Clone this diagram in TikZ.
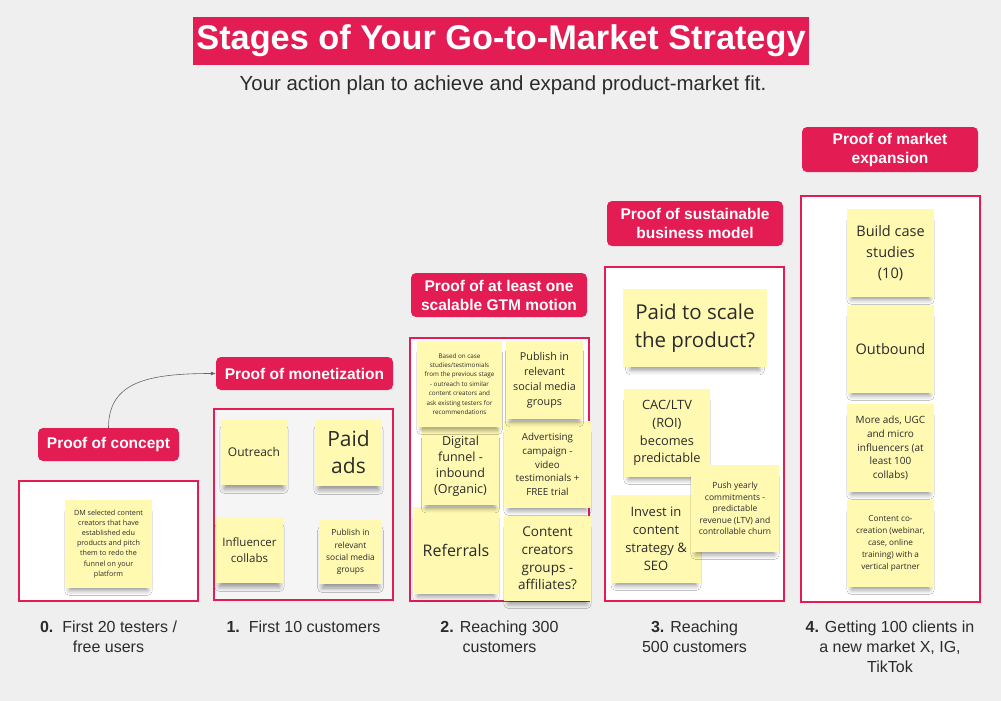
\documentclass[tikz,border=0pt]{standalone}
\usepackage{fontspec}
\setmainfont{Open Sans}
\newfontfamily\headfont{Liberation Sans}
\usetikzlibrary{positioning, arrows.meta, shadows.blur}
\definecolor{gtmred}{HTML}{E31C54}
\definecolor{stickyyellow}{HTML}{FFF9B1}
\definecolor{bggray}{HTML}{EFEFEF}
\definecolor{inktext}{HTML}{2B2B2B}
\newcommand{\fsz}[2]{\fontsize{#1}{#2}\selectfont}

\begin{document}
\begin{tikzpicture}[x=1pt, y=-1pt, >={Latex[length=5pt, width=4pt]},
    stagelabel/.style={fill=gtmred, rounded corners=5pt, text=white, align=center, inner sep=0pt,
                       font=\headfont\bfseries\fsz{15.5}{19}},
    stageframe/.style={draw=gtmred, line width=2pt, fill=white, inner sep=0pt},
    sticky/.style={fill=stickyyellow, text=inktext, align=center, inner sep=1pt,
                   blur shadow={shadow xshift=0pt, shadow yshift=-8pt, shadow scale=0.9,
                                shadow opacity=40, shadow blur radius=5pt}},
    footlabel/.style={text=inktext, align=center, inner sep=0pt, anchor=north, font=\headfont\fsz{16}{20}}]

    % Background
    \path[use as bounding box, fill=bggray] (0,0) rectangle (1001,701);

    % Heading
    \node[fill=gtmred, text=white, minimum width=616, minimum height=48, inner sep=0pt,
          font=\headfont\bfseries\fsz{34.3}{40}] (title) at (501,41) {Stages of Your Go-to-Market Strategy};
    \node[text=inktext, font=\headfont\fsz{20.4}{24}] (subtitle) at (503,85)
        {Your action plan to achieve and expand product-market fit.};

    % Stage frames
    \node[stageframe, minimum width=179, minimum height=120] (frame0) at (108.5,541) {};
    \node[stageframe, minimum width=179, minimum height=191, fill=white!96!black] (frame1) at (303.5,504.5) {};
    \node[stageframe, minimum width=179, minimum height=263] (frame2) at (499.5,469.5) {};
    \node[stageframe, minimum width=179, minimum height=334] (frame3) at (694.5,434) {};
    \node[stageframe, minimum width=179, minimum height=406] (frame4) at (890,398.5) {};

    % Stage 0 stickies
    \node[sticky, minimum width=87, minimum height=88, font=\fsz{7.2}{10.1}] (n0a) at (108.5,544)
        {DM selected content\\creators that have\\established edu\\products and pitch\\them to redo the\\funnel on your\\platform};

    % Stage 1 stickies
    \node[sticky, minimum width=66, minimum height=66, font=\fsz{12}{16}] (n1a) at (254,452) {Outreach};
    \node[sticky, minimum width=67, minimum height=67, font=\fsz{21}{27}] (n1b) at (348.5,452.5) {Paid\\ads};
    \node[sticky, minimum width=67, minimum height=66, font=\fsz{11.5}{16}] (n1c) at (249.5,550) {Influencer\\collabs};
    \node[sticky, minimum width=63, minimum height=64, font=\fsz{8.4}{12.2}] (n1d) at (350.5,552)
        {Publish in\\relevant\\social media\\groups};

    % Stage 2 stickies
    \node[sticky, minimum width=86, minimum height=87, font=\fsz{16}{20}] (n2e) at (456,550.5) {Referrals};
    \node[sticky, minimum width=87, minimum height=85, font=\fsz{13.5}{17.8}] (n2f) at (547.5,558.5)
        {Content\\creators\\groups -\\affiliates?};
    \node[sticky, minimum width=77, minimum height=77, font=\fsz{12.5}{16}] (n2c) at (460.5,466.5)
        {Digital\\funnel -\\inbound\\(Organic)};
    \node[sticky, minimum width=87, minimum height=87, font=\fsz{9.8}{13.7}] (n2d) at (547.5,464.5)
        {Advertising\\campaign -\\video\\testimonials +\\FREE trial};
    \node[sticky, minimum width=85, minimum height=86, font=\fsz{6.3}{9.4}] (n2a) at (459.5,384)
        {Based on case\\studies/testimonials\\from the previous stage\\- outreach to similar\\content creators and\\ask existing testers for\\recommendations};
    \node[sticky, minimum width=77, minimum height=78, font=\fsz{10.8}{15}] (n2b) at (544.5,380)
        {Publish in\\relevant\\social media\\groups};

    % Stage 3 stickies
    \node[sticky, minimum width=144, minimum height=78, font=\fsz{20.5}{28.5}] (n3a) at (695,328)
        {Paid to scale\\the product?};
    \node[sticky, minimum width=86, minimum height=88, font=\fsz{12.8}{17.8}] (n3b) at (667,433)
        {CAC/LTV\\(ROI)\\becomes\\predictable};
    \node[sticky, minimum width=90, minimum height=88, font=\fsz{13}{18}] (n3c) at (656,539)
        {Invest in\\content\\strategy \&\\SEO};
    \node[sticky, minimum width=88, minimum height=87, font=\fsz{8.5}{11.5}] (n3d) at (735,508.5)
        {Push yearly\\commitments -\\predictable\\revenue (LTV) and\\controllable churn};

    % Stage 4 stickies
    \node[sticky, minimum width=87, minimum height=88, font=\fsz{14.5}{21}] (n4a) at (890.5,253)
        {Build case\\studies\\(10)};
    \node[sticky, minimum width=87, minimum height=88, font=\fsz{14.5}{21}] (n4b) at (890.5,349) {Outbound};
    \node[sticky, minimum width=87, minimum height=88, font=\fsz{10}{13.9}] (n4c) at (890.5,448)
        {More ads, UGC\\and micro\\influencers (at\\least 100\\collabs)};
    \node[sticky, minimum width=87, minimum height=87, font=\fsz{8.2}{12}] (n4d) at (890.5,543.5)
        {Content co-\\creation (webinar,\\case, online\\training) with a\\vertical partner};

    % Stage labels
    \node[stagelabel, minimum width=141, minimum height=33] (lab0) at (108.5,444.5) {Proof of concept};
    \node[stagelabel, minimum width=177, minimum height=33] (lab1) at (304.5,373.5) {Proof of monetization};
    \node[stagelabel, minimum width=176, minimum height=44] (lab2) at (499,295) {Proof of at least one\\scalable GTM motion};
    \node[stagelabel, minimum width=176, minimum height=45] (lab3) at (695,223.5) {Proof of sustainable\\business model};
    \node[stagelabel, minimum width=176, minimum height=45] (lab4) at (890,149.5) {Proof of market\\expansion};

    % Connector
    \draw[->, draw=gray!80!black, line width=0.6pt] (lab0.north) .. controls +(0,-45) and +(-70,0) .. (lab1.west);

    % Stage targets
    \node[footlabel] (foot0) at (108.5,621) {\textbf{0.}\ \ First 20 testers /\\free users};
    \node[footlabel] (foot1) at (303.5,621) {\textbf{1.}\ \ First 10 customers};
    \node[footlabel] (foot2) at (499.5,621) {\textbf{2.} Reaching 300\\customers};
    \node[footlabel] (foot3) at (694.5,621) {\textbf{3.} Reaching\\500 customers};
    \node[footlabel] (foot4) at (890,621) {\textbf{4.} Getting 100 clients in\\a new market X, IG,\\TikTok};

\end{tikzpicture}
\end{document}
